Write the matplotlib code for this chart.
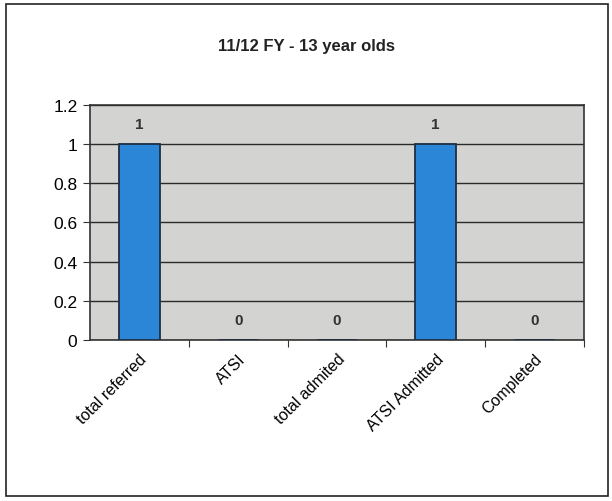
import matplotlib
matplotlib.use("Agg")
import matplotlib.pyplot as plt
from matplotlib.patches import Rectangle

categories = ["total referred", "ATSI", "total admited", "ATSI Admitted", "Completed"]
values = [1, 0, 0, 1, 0]
yticks = [0, 0.2, 0.4, 0.6, 0.8, 1, 1.2]
yticklabels = ["0", "0.2", "0.4", "0.6", "0.8", "1", "1.2"]

plt.rcParams["font.family"] = ["Liberation Sans", "DejaVu Sans"]

fig = plt.figure(figsize=(6.12, 5.02), dpi=100)
fig.patch.set_facecolor("white")

# outer chart frame
fig.add_artist(Rectangle((0.010, 0.010), 0.983, 0.980, transform=fig.transFigure,
                         fill=False, edgecolor="#222222", linewidth=1.2))

ax = fig.add_axes([0.147, 0.321, 0.807, 0.468])
ax.set_facecolor("#d3d3d1")

x = range(len(categories))
ax.bar(x, values, width=0.41, color="#2c86d8", edgecolor="#1f2f44", linewidth=1.3, zorder=3)

for xi, v in zip(x, values):
    ax.annotate(str(v), (xi, v), xytext=(0, 14.5), textcoords="offset points",
                ha="center", va="center", fontsize=11, fontweight="bold", color="#333333")

ax.set_xlim(-0.5, len(categories) - 0.5)
ax.set_ylim(0, 1.2)
ax.set_yticks(yticks)
ax.set_yticklabels(yticklabels, fontsize=12.5)
ax.yaxis.grid(True, color="#2a2a2a", linewidth=1.0, zorder=1)
ax.set_axisbelow(True)

ax.set_xticks([i + 0.5 for i in range(len(categories))], minor=False)
ax.set_xticklabels([])
ax.set_xticks(list(x), minor=True)
ax.set_xticklabels(categories, minor=True, rotation=45, ha="right", rotation_mode="anchor",
                   fontsize=11.5)
ax.tick_params(axis="x", which="minor", length=0, pad=8)
ax.tick_params(axis="x", which="major", length=5, color="#333333")
ax.tick_params(axis="y", length=5, color="#333333", pad=4)

for s in ax.spines.values():
    s.set_color("#333333")
    s.set_linewidth(1.2)

fig.text(0.5, 0.908, "11/12 FY - 13 year olds", ha="center", va="center",
         fontsize=12, fontweight="bold", color="#222222")

fig.savefig("out.png", dpi=100)
